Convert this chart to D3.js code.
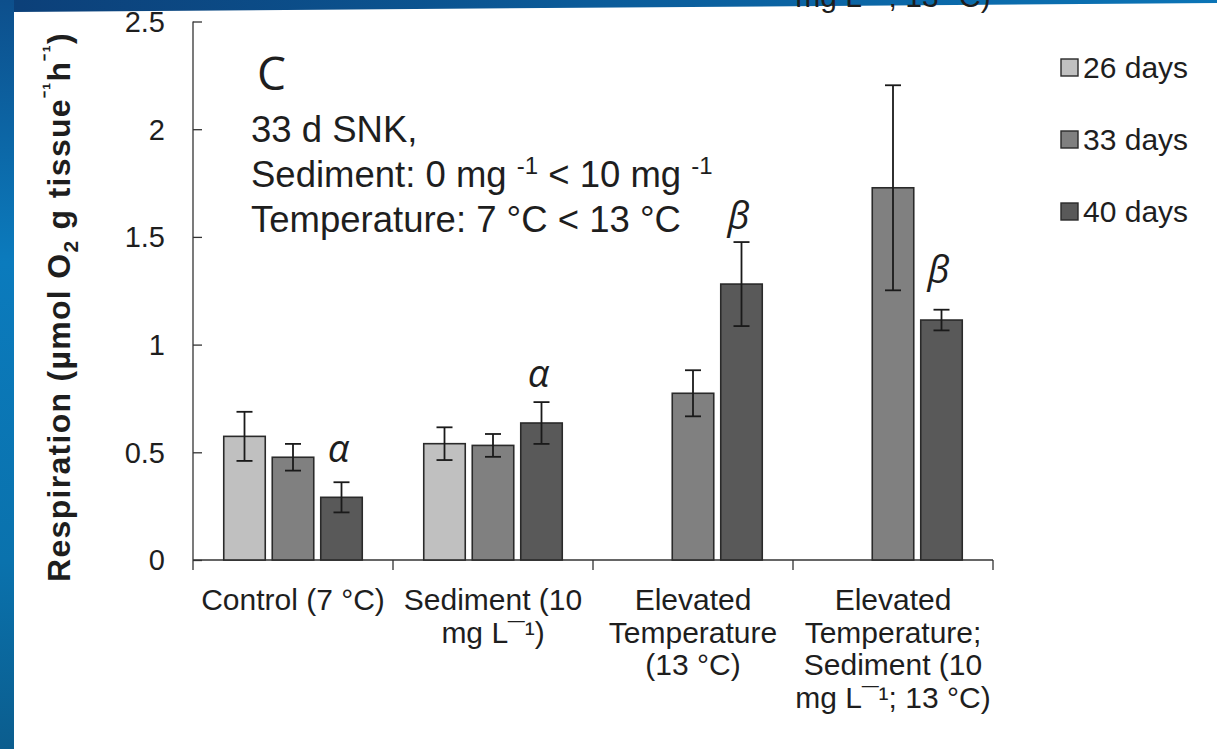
<!DOCTYPE html>
<html>
<head>
<meta charset="utf-8">
<script src="https://cdn.jsdelivr.net/npm/d3@7"></script>
<style>
  html, body { margin: 0; padding: 0; background: #ffffff; }
  svg { display: block; }
  text { font-family: "Liberation Sans", Arial, sans-serif; fill: #1e1e1e; }
</style>
</head>
<body>
<svg id="chart" width="1217" height="749"></svg>
<script>
// ---------- data ----------
const categories = ["Control", "Sediment", "ElevTemp", "ElevTempSed"];
const categoryLabelLines = [
  ["Control (7 °C)"],
  ["Sediment (10", "mg L¯¹)"],
  ["Elevated", "Temperature", "(13 °C)"],
  ["Elevated", "Temperature;", "Sediment (10", "mg L¯¹; 13 °C)"]
];
const series = ["26 days", "33 days", "40 days"];
const values26 = [0.574, 0.540, null, null];
const values33 = [0.477, 0.532, 0.774, 1.728];
const values40 = [0.291, 0.636, 1.281, 1.114];
const err26 = [0.114, 0.076, null, null];
const err33 = [0.062, 0.053, 0.107, 0.476];
const err40 = [0.070, 0.097, 0.195, 0.048];
const sigLabels40 = ["α", "α", "β", "β"];
const sigLabelY40 = [0.456, 0.803, 1.537, 1.286];
const yTicks = [0, 0.5, 1, 1.5, 2, 2.5];
const yTickLabels = ["0", "0.5", "1", "1.5", "2", "2.5"];
const seriesColors = ["#c0c0c0", "#808080", "#595959"];

const seriesValues = [values26, values33, values40];
const seriesErrors = [err26, err33, err40];

// ---------- layout ----------
const W = 1217, H = 749;
const plot = { left: 193, right: 993, top: 21.5, bottom: 560 };
const svg = d3.select("#chart");

// background (slide frame)
const defs = svg.append("defs");
const gL = defs.append("linearGradient").attr("id", "gLeft").attr("x1", 0).attr("y1", 0).attr("x2", 0).attr("y2", 1);
gL.append("stop").attr("offset", "0%").attr("stop-color", "#0d4f8c");
gL.append("stop").attr("offset", "35%").attr("stop-color", "#0b7bbd");
gL.append("stop").attr("offset", "75%").attr("stop-color", "#0a72ad");
gL.append("stop").attr("offset", "100%").attr("stop-color", "#0b5d8e");
const gT = defs.append("linearGradient").attr("id", "gTop").attr("x1", 0).attr("y1", 0).attr("x2", 1).attr("y2", 0);
gT.append("stop").attr("offset", "0%").attr("stop-color", "#0c3f78");
gT.append("stop").attr("offset", "50%").attr("stop-color", "#0b5c9a");
gT.append("stop").attr("offset", "100%").attr("stop-color", "#0b74b6");

svg.append("rect").attr("x", 0).attr("y", 0).attr("width", W).attr("height", 14).attr("fill", "url(#gTop)");
svg.append("rect").attr("x", 0).attr("y", 0).attr("width", 14).attr("height", H).attr("fill", "url(#gLeft)");
svg.append("polygon").attr("points", `14,12 ${W},3 ${W},${H} 14,${H}`).attr("fill", "#ffffff");

// cut-off label from the panel above
svg.append("text").attr("x", 893).attr("y", 7).attr("text-anchor", "middle")
  .style("font-size", "30px").text("mg L¯¹; 13 °C)");

// ---------- scales ----------
const x0 = d3.scaleBand().domain(categories).range([plot.left, plot.right]).padding(0);
const x1 = d3.scaleBand().domain(series).range([x0.bandwidth() / 2 - 69.25, x0.bandwidth() / 2 + 69.25])
  .paddingInner(7 / 48.5).paddingOuter(0);
const y = d3.scaleLinear().domain([0, 2.5]).range([plot.bottom, plot.top]);

// ---------- axes ----------
const yAxis = d3.axisRight(y).tickValues(yTicks).tickSize(9).tickFormat("");
const yg = svg.append("g").attr("transform", `translate(${plot.left},0)`).call(yAxis);
yg.select(".domain").attr("stroke", "#333").attr("stroke-width", 1.3).attr("d", `M0,${plot.top}V${plot.bottom}`);
yg.selectAll(".tick line").attr("stroke", "#333").attr("stroke-width", 1.3);

svg.append("g").selectAll("text").data(yTicks).join("text")
  .attr("x", 165).attr("y", d => y(d)).attr("dy", "0.36em").attr("text-anchor", "end")
  .style("font-size", "29px").text((d, i) => yTickLabels[i]);

const xTickPositions = categories.map(c => x0(c)).concat([plot.right]);
const xg = svg.append("g").attr("transform", `translate(0,${plot.bottom})`);
xg.append("line").attr("x1", plot.left).attr("x2", plot.right).attr("y1", 0).attr("y2", 0)
  .attr("stroke", "#333").attr("stroke-width", 1.3);
xg.selectAll("line.tk").data(xTickPositions).join("line").attr("class", "tk")
  .attr("x1", d => d).attr("x2", d => d).attr("y1", 0).attr("y2", 10)
  .attr("stroke", "#333").attr("stroke-width", 1.3);

// category labels
const catG = svg.append("g");
categories.forEach((c, i) => {
  const t = catG.append("text").attr("text-anchor", "middle").style("font-size", "30px");
  categoryLabelLines[i].forEach((line, j) => {
    t.append("tspan").attr("x", x0(c) + x0.bandwidth() / 2).attr("y", 610 + j * 32.5).text(line);
  });
});

// ---------- bars ----------
const barData = [];
categories.forEach((c, i) => {
  series.forEach((s, k) => {
    const v = seriesValues[k][i];
    if (v !== null) barData.push({ c, s, k, v, e: seriesErrors[k][i] });
  });
});

svg.append("g").selectAll("rect").data(barData).join("rect")
  .attr("x", d => x0(d.c) + x1(d.s))
  .attr("y", d => y(d.v))
  .attr("width", x1.bandwidth())
  .attr("height", d => y(0) - y(d.v))
  .attr("fill", d => seriesColors[d.k])
  .attr("stroke", "#2a2a2a").attr("stroke-width", 1.6);

// error bars
const eg = svg.append("g").attr("stroke", "#1a1a1a").attr("stroke-width", 1.8);
barData.forEach(d => {
  const cx = x0(d.c) + x1(d.s) + x1.bandwidth() / 2;
  eg.append("line").attr("x1", cx).attr("x2", cx).attr("y1", y(d.v + d.e)).attr("y2", y(d.v - d.e));
  eg.append("line").attr("x1", cx - 8).attr("x2", cx + 8).attr("y1", y(d.v + d.e)).attr("y2", y(d.v + d.e));
  eg.append("line").attr("x1", cx - 8).attr("x2", cx + 8).attr("y1", y(d.v - d.e)).attr("y2", y(d.v - d.e));
});

// significance letters over 40-day bars
svg.append("g").selectAll("text").data(categories).join("text")
  .attr("x", c => x0(c) + x1("40 days") + x1.bandwidth() / 2 - 3)
  .attr("y", (c, i) => y(sigLabelY40[i]))
  .attr("text-anchor", "middle")
  .style("font-family", "'Open Sans', 'DejaVu Sans', sans-serif")
  .style("font-style", "italic").style("font-size", "38px")
  .text((c, i) => sigLabels40[i]);

// ---------- annotation block ----------
svg.append("text").attr("x", 257).attr("y", 90)
  .style("font-family", "'Open Sans', sans-serif").style("font-size", "46px").text("C");
const ann = svg.append("g").style("font-size", "36.5px");
ann.append("text").attr("x", 251).attr("y", 142).text("33 d SNK,");
const l2 = ann.append("text").attr("x", 251).attr("y", 187);
l2.append("tspan").text("Sediment: 0 mg ");
l2.append("tspan").attr("dy", -13).style("font-size", "24px").text("-1");
l2.append("tspan").attr("dy", 13).text(" < 10 mg ");
l2.append("tspan").attr("dy", -13).style("font-size", "24px").text("-1");
ann.append("text").attr("x", 251).attr("y", 232).text("Temperature: 7 °C < 13 °C");

// ---------- legend ----------
const lg = svg.append("g");
series.forEach((s, k) => {
  const cy = 67.5 + k * 72;
  lg.append("rect").attr("x", 1061).attr("y", cy - 8.5).attr("width", 17).attr("height", 17)
    .attr("fill", seriesColors[k]).attr("stroke", "#2a2a2a").attr("stroke-width", 1.4);
  lg.append("text").attr("x", 1083).attr("y", cy).attr("dy", "0.36em")
    .style("font-size", "30px").text(s);
});

// ---------- y-axis title ----------
const yt = svg.append("text").attr("transform", "translate(70,307) rotate(-90)")
  .attr("text-anchor", "middle").style("font-size", "32px").style("font-weight", "bold")
  .style("letter-spacing", "1.3px");
yt.append("tspan").text("Respiration (µmol O");
yt.append("tspan").attr("dy", 8).style("font-size", "21px").text("2");
yt.append("tspan").attr("dy", -8).text(" g tissue");
yt.append("tspan").attr("dy", -13).style("font-size", "21px").text("⁻¹");
yt.append("tspan").attr("dy", 13).text("h");
yt.append("tspan").attr("dy", -13).style("font-size", "21px").text("⁻¹");
yt.append("tspan").attr("dy", 13).text(")");
</script>
</body>
</html>
